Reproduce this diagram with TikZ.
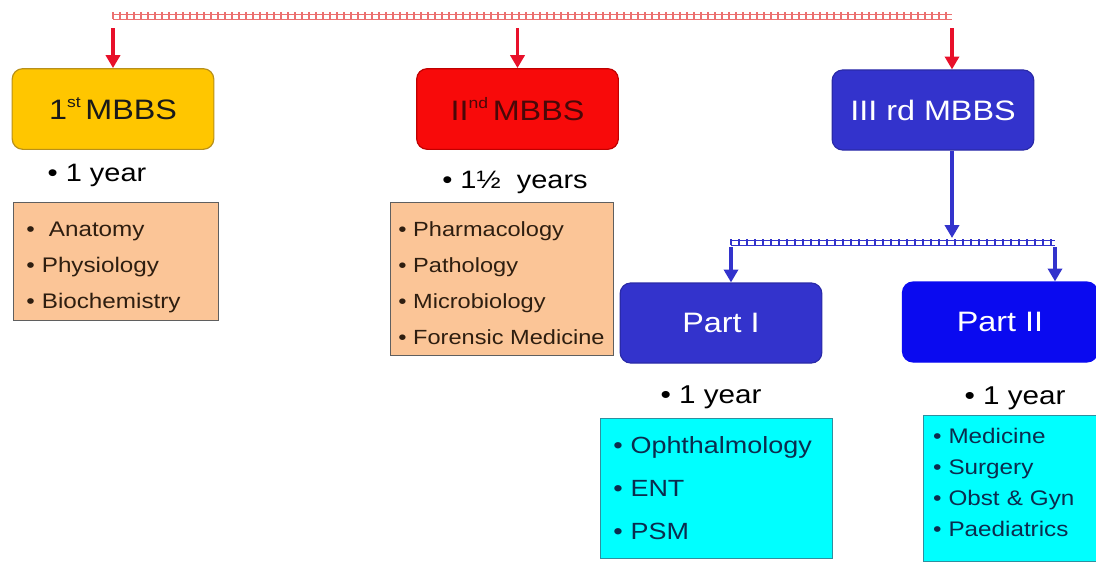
\documentclass[tikz,border=0pt]{standalone}
\usepackage{fontspec}
\setmainfont[FakeStretch=1.15]{Liberation Sans}
\usetikzlibrary{arrows.meta,positioning}

\definecolor{goldfill}{HTML}{FFC600}
\definecolor{golddraw}{HTML}{B8901A}
\definecolor{redfill}{HTML}{F80A0A}
\definecolor{reddraw}{HTML}{C00000}
\definecolor{redtext}{HTML}{4A0808}
\definecolor{indigofill}{HTML}{3333CC}
\definecolor{indigodraw}{HTML}{2A2AA8}
\definecolor{bluefill}{HTML}{0A0AF0}
\definecolor{peachfill}{HTML}{FBC597}
\definecolor{peachdraw}{HTML}{5F5F5F}
\definecolor{peachtext}{HTML}{2E1E10}
\definecolor{cyanfill}{HTML}{00FFFF}
\definecolor{cyandraw}{HTML}{2F8F9F}
\definecolor{cyantext}{HTML}{0B2C4E}
\definecolor{arrowred}{HTML}{E8102A}
\definecolor{barred}{HTML}{EC7070}

% small raised ordinal
\newcommand{\ordsup}[1]{\raisebox{0.42em}{\fontsize{13}{13}\selectfont #1}}

\tikzset{
  mbbs/.style={draw, rounded corners=9pt, line width=1pt, minimum width=6.05cm, minimum height=2.42cm, inner sep=0pt, font=\fontsize{24}{28}\selectfont},
  duration/.style={inner sep=0pt, font=\fontsize{21.5}{24}\selectfont},
  peachlist/.style={draw=peachdraw, fill=peachfill, line width=0.8pt, align=left, inner ysep=0pt, text=peachtext, font=\fontsize{18}{30.7}\selectfont},
  cyanlist/.style={draw=cyandraw, fill=cyanfill, line width=0.8pt, align=left, inner ysep=0pt, text=cyantext},
  redarrow/.style={draw=arrowred, line width=3.2pt, -{Triangle[length=11pt,width=12pt]}},
  bluearrow/.style={draw=indigofill, line width=3.2pt, -{Triangle[length=11pt,width=12pt]}},
}

\begin{document}
\begin{tikzpicture}[x=0.03cm,y=-0.03cm]
\useasboundingbox (0,0) rectangle (1096,561);

% year boxes
\node[mbbs, draw=golddraw, fill=goldfill, text=black!90] (first) at (113,109) {1\ordsup{st}\,MBBS};
\node[mbbs, draw=reddraw, fill=redfill, text=redtext] (second) at (517.5,109) {II\ordsup{nd}\,MBBS};
\node[mbbs, draw=indigodraw, fill=indigofill, text=white, minimum height=2.4cm] (third) at (933,110) {III rd MBBS};
\node[mbbs, draw=indigodraw, fill=indigofill, text=white, minimum height=2.4cm] (partone) at (721,323) {Part I};
\node[mbbs, draw=bluefill, fill=bluefill, text=white, minimum height=2.4cm, minimum width=5.85cm] (parttwo) at (1000,322) {Part II};

% durations
\node[duration] (firstyr) at (97,175) {\textbullet\ 1 year};
\node[duration] (secondyr) at (515,182) {\textbullet\ 1½\ \ years};
\node[duration, font=\fontsize{22}{24}\selectfont] (oneyr) at (711,397) {\textbullet\ 1 year};
\node[duration, font=\fontsize{22}{24}\selectfont] (twoyr) at (1015,398) {\textbullet\ 1 year};

% subjects
\node[peachlist, minimum width=6.15cm, minimum height=3.54cm, inner xsep=0.4cm, text width=5.35cm] (firstsubj) at (115.5,261)
  {\rule{0pt}{0.8cm}\textbullet\ \ Anatomy\\ \textbullet\ Physiology\\ \textbullet\ Biochemistry};
\node[peachlist, minimum width=6.69cm, minimum height=4.59cm, font=\fontsize{17.5}{30.9}\selectfont] (secondsubj) at (501.5,278.5)
  {\rule{0pt}{0.72cm}\textbullet\ Pharmacology\\ \textbullet\ Pathology\\ \textbullet\ Microbiology\\ \textbullet\ Forensic Medicine};
\node[cyanlist, minimum width=6.96cm, minimum height=4.2cm, inner xsep=0.4cm, text width=6.16cm, font=\fontsize{20}{36.6}\selectfont] (onesubj) at (716,488)
  {\textbullet\ Ophthalmology\\ \textbullet\ ENT\\ \textbullet\ PSM};
\node[cyanlist, minimum width=5.76cm, minimum height=4.38cm, inner xsep=0.3cm, text width=5.16cm, font=\fontsize{18}{26.5}\selectfont] (twosubj) at (1019,488)
  {\textbullet\ Medicine\\ \textbullet\ Surgery\\ \textbullet\ Obst \& Gyn\\ \textbullet\ Paediatrics\rule[-0.33cm]{0pt}{0pt}};

% top bar
\coordinate (barL) at (113,17);
\coordinate (barR) at (952,17);
\draw[barred, double=white, double distance=0.12cm, line width=1pt] (barL) -- (barR);
\foreach \x in {113,120,...,952}
  \draw[barred, line width=1pt] (\x,12) -- (\x,19);

\coordinate (drop1) at (113,28);
\coordinate (drop2) at (517.5,28);
\coordinate (drop3) at (952,28);
\draw[redarrow] (drop1) -- (first.north);
\draw[redarrow] (drop2) -- (second.north);
\draw[redarrow] (drop3) -- (drop3 |- third.north);

% lower bar
\coordinate (split) at (952,238);
\coordinate (splitL) at (731,243);
\coordinate (splitR) at (1055,243);
\draw[bluearrow] (third.south -| split) -- (split);
\draw[indigofill, double=white, double distance=0.12cm, line width=1pt] (splitL) -- (splitR);
\foreach \x in {731,739,...,1055}
  \draw[indigofill, line width=1pt] (\x,239) -- (\x,245);
\coordinate (leftdrop) at (731,247);
\coordinate (rightdrop) at (1055,247);
\draw[bluearrow] (leftdrop) -- (leftdrop |- partone.north);
\draw[bluearrow] (rightdrop) -- (rightdrop |- parttwo.north);
\end{tikzpicture}
\end{document}
